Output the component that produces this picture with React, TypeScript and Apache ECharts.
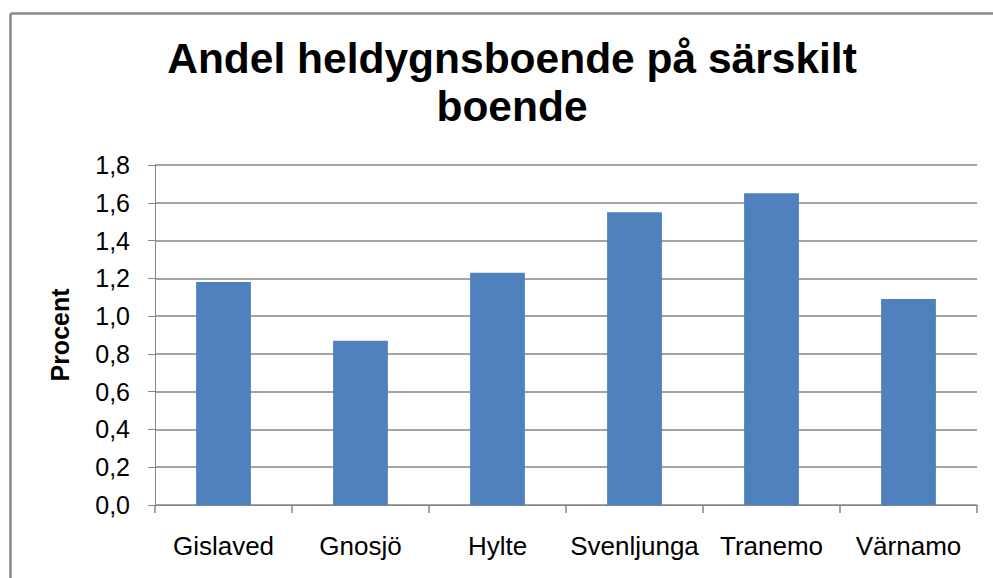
import React, { useEffect, useRef } from "react";
import * as echarts from "echarts";

const categories = ["Gislaved", "Gnosjö", "Hylte", "Svenljunga", "Tranemo", "Värnamo"];
const values = [1.18, 0.87, 1.23, 1.55, 1.65, 1.09];
const titleText = "Andel heldygnsboende på särskilt\nboende";
const yAxisName = "Procent";
const yMin = 0;
const yMax = 1.8;
const yStep = 0.2;

export default function App() {
  const ref = useRef<HTMLDivElement>(null);
  useEffect(() => {
    if (!ref.current) return;
    const chart = echarts.init(ref.current, undefined, { renderer: "svg" });
    const font = "'Liberation Sans', Arial, sans-serif";
    chart.setOption({
      animation: false,
      backgroundColor: "#ffffff",
      title: {
        text: titleText,
        left: 507,
        textAlign: "center",
        top: 29,
        textStyle: {
          fontFamily: font,
          fontSize: 42.5,
          fontWeight: "bold",
          color: "#000",
          lineHeight: 48,
        },
      },
      graphic: [
        {
          type: "line",
          shape: { x1: 10.5, y1: 13.5, x2: 993, y2: 13.5 },
          style: { stroke: "#888888", lineWidth: 2.5 },
          silent: true,
        },
        {
          type: "line",
          shape: { x1: 10.5, y1: 13.5, x2: 10.5, y2: 578 },
          style: { stroke: "#888888", lineWidth: 2.5 },
          silent: true,
        },
      ],
      grid: { left: 155, right: 16, top: 165, bottom: 73, containLabel: false },
      xAxis: {
        type: "category",
        data: categories,
        boundaryGap: true,
        axisLine: { show: true, lineStyle: { color: "#868686", width: 1 } },
        axisTick: { show: true, alignWithLabel: false, length: 8, lineStyle: { color: "#868686", width: 1.5 } },
        axisLabel: {
          interval: 0,
          margin: 28,
          fontFamily: font,
          fontSize: 26,
          color: "#000",
        },
      },
      yAxis: {
        type: "value",
        min: yMin,
        max: yMax,
        interval: yStep,
        name: yAxisName,
        nameLocation: "middle",
        nameGap: 83,
        nameRotate: 90,
        nameTextStyle: { fontFamily: font, fontSize: 25, fontWeight: "bold", color: "#000" },
        axisLine: { show: true, lineStyle: { color: "#868686", width: 1 } },
        axisTick: { show: true, inside: false, length: 7, lineStyle: { color: "#868686", width: 1 } },
        splitLine: { show: true, lineStyle: { color: "#868686", width: 1.5 } },
        axisLabel: {
          margin: 25,
          fontFamily: font,
          fontSize: 25,
          color: "#000",
          formatter: (v: number) => v.toFixed(1).replace(".", ","),
        },
      },
      series: [
        {
          type: "bar",
          data: values,
          barWidth: "40%",
          itemStyle: { color: "#4F81BD" },
        },
      ],
    });
    return () => chart.dispose();
  }, []);
  return (
    <div
      ref={ref}
      style={{ position: "fixed", left: 0, top: 0, width: 993, height: 578 }}
    />
  );
}
